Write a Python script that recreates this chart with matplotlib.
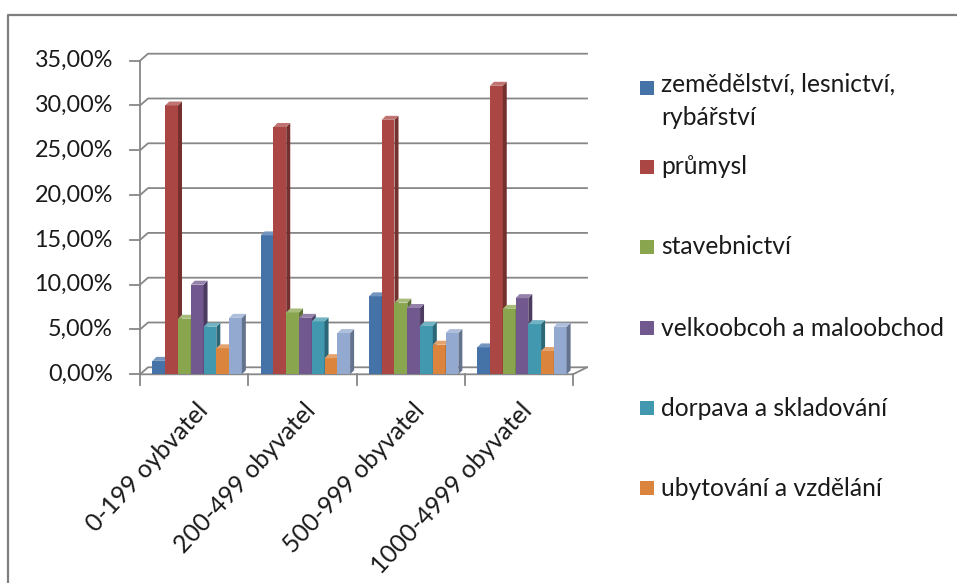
import numpy as np
import matplotlib.pyplot as plt
import matplotlib.colors as mcolors
from matplotlib.patches import Polygon, Rectangle
from matplotlib.lines import Line2D

plt.rcParams['font.family'] = ['Lato', 'DejaVu Sans']

groups = ['0-199 oybvatel', '200-499 obyvatel', '500-999 obyvatel', '1000-4999 obyvatel']
sectors = ['zemědělství, lesnictví,\nrybářství', 'průmysl', 'stavebnictví',
           'velkoobcoh a maloobchod', 'dorpava a skladování', 'ubytování a vzdělání']

# values in percent
zemedelstvi = [1.5, 15.5, 8.7, 3.0]
prumysl = [30.0, 27.6, 28.4, 32.2]
stavebnictvi = [6.2, 6.9, 8.0, 7.3]
obchod = [10.0, 6.3, 7.4, 8.5]
doprava = [5.3, 5.9, 5.4, 5.6]
ubytovani = [2.9, 1.8, 3.3, 2.6]
ostatni = [6.3, 4.6, 4.6, 5.3]   # 7th series, no legend entry visible
yticks = [0, 5, 10, 15, 20, 25, 30, 35]

series = [zemedelstvi, prumysl, stavebnictvi, obchod, doprava, ubytovani, ostatni]
colors = ['#4572A7', '#AA4643', '#89A54E', '#71588F', '#4198AF', '#DB843D', '#93A9CF']

W, H = 957, 583
fig = plt.figure(figsize=(W / 100, H / 100), dpi=100)

def fx(px):
    return px / W

def fy(py):
    return 1 - py / H

# front plane of the plot, in pixels
x_left, x_right, y_zero, y_top = 140, 573, 374.3, 60.7
ax = fig.add_axes([fx(x_left), fy(y_zero), (x_right - x_left) / W, (y_zero - y_top) / H])
ax.set_xlim(0, 4)
ax.set_ylim(0, 35)
ax.axis('off')

sx = (x_right - x_left) / 4.0       # px per category
sy = (y_zero - y_top) / 35.0        # px per percent
grid_c = '#878787'
txt_c = '#1a1a1a'

# walls / gridlines
back_dy = 7 / sy
for v in yticks:
    ax.add_line(Line2D([0, 8 / sx, (587 - x_left) / sx], [v, v + back_dy, v + back_dy],
                       color=grid_c, lw=1.3, clip_on=False, zorder=1))
    ax.add_line(Line2D([-10 / sx, 0], [v, v], color=grid_c, lw=1.3, clip_on=False, zorder=1))
    ax.text(-27 / sx, v, f'{v:.2f}%'.replace('.', ','), ha='right', va='center',
            fontsize=16.8, color=txt_c)
ax.add_line(Line2D([0, 0], [0, 35], color=grid_c, lw=1.3, clip_on=False, zorder=1))
ax.add_line(Line2D([0, 4, (587 - x_left) / sx], [0, 0, back_dy],
                   color=grid_c, lw=1.3, clip_on=False, zorder=1))
for i in range(5):
    ax.add_line(Line2D([i, i], [0, -11 / sy], color=grid_c, lw=1.3, clip_on=False, zorder=1))

# 3d-looking columns
bw = 0.118
dx, dy = 4 / sx, 4 / sy
for k, (vals, c) in enumerate(zip(series, colors)):
    rgb = np.array(mcolors.to_rgb(c))
    side = rgb * 0.68
    top = rgb + (1 - rgb) * 0.25
    xs = np.arange(4) + 0.115 + k * bw
    ax.bar(xs, vals, width=bw, align='edge', color=c, zorder=3 + k, linewidth=0)
    for x0, v in zip(xs, vals):
        ax.add_patch(Polygon([(x0 + bw, 0), (x0 + bw + dx, dy), (x0 + bw + dx, v + dy), (x0 + bw, v)],
                             closed=True, facecolor=side, edgecolor='none', zorder=3 + k))
        ax.add_patch(Polygon([(x0, v), (x0 + dx, v + dy), (x0 + bw + dx, v + dy), (x0 + bw, v)],
                             closed=True, facecolor=top, edgecolor='none', zorder=3 + k))

# category labels
for i, g in enumerate(groups):
    ax.text(i + 0.5 + 1 / sx, (y_zero - 399) / sy, g, rotation=47, rotation_mode='anchor',
            ha='right', va='top', fontsize=17.8, color=txt_c, clip_on=False)

# legend
leg_y = [88, 167, 247, 328, 408, 488]
for lab, c, yy in zip(sectors, colors, leg_y):
    fig.patches.append(Rectangle((fx(640), fy(yy + 7)), 14 / W, 14 / H, transform=fig.transFigure,
                                 facecolor=c, edgecolor='none'))
    if '\n' in lab:
        fig.text(fx(661), fy(yy - 15), lab, ha='left', va='top', fontsize=17.7,
                 color=txt_c, linespacing=1.55)
    else:
        fig.text(fx(661), fy(yy), lab, ha='left', va='center', fontsize=17.7, color=txt_c)

# chart frame (only top and left edges visible)
fig.add_artist(Line2D([fx(8), fx(8), fx(957)], [fy(583), fy(15), fy(15)],
                      transform=fig.transFigure, color='#7f7f7f', lw=1.6))

fig.savefig('out.png', dpi=100)
